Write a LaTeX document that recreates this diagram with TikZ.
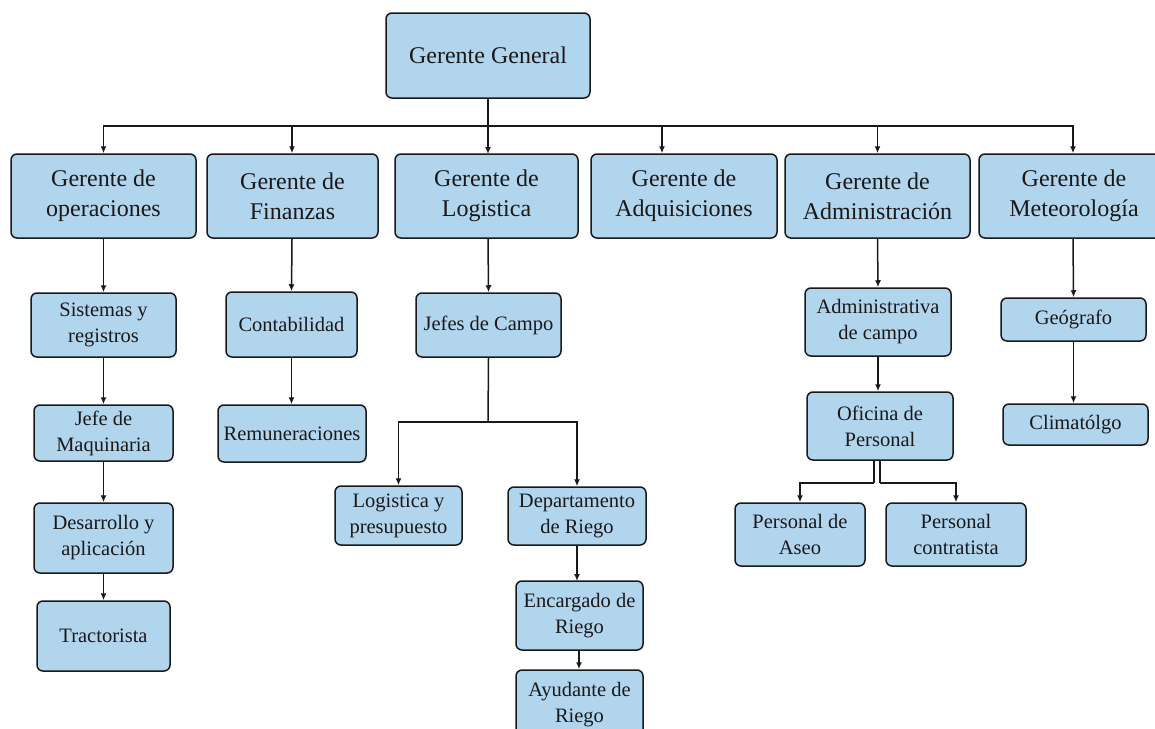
\documentclass[tikz,border=0pt]{standalone}
\usepackage{fontspec}
\setmainfont{Liberation Serif}
\usetikzlibrary{arrows.meta}
\definecolor{boxblue}{RGB}{178,213,238}
\definecolor{ink}{RGB}{25,25,25}
\begin{document}
\begin{tikzpicture}[x=1pt,y=-1pt,
  box/.style={draw=ink, fill=boxblue, rounded corners=6pt, line width=1.5pt, align=center, inner sep=0pt, text=ink},
  big/.style={box, font=\fontsize{24}{30}\selectfont},
  small/.style={box, font=\fontsize{20.5}{26}\selectfont},
  arr/.style={draw=ink, line width=1.5pt, -{Latex[length=7pt,width=6pt]}},
  ln/.style={draw=ink, line width=1.5pt}]
\useasboundingbox (0,0) rectangle (1155,728);
\fill[white] (0,0) rectangle (1155,728);

\node[box, font=\fontsize{24}{30}\selectfont, minimum width=204pt, minimum height=85pt] (gg) at (488,55.5) {Gerente General};

\node[big, minimum width=185pt, minimum height=84pt] (ops) at (103.5,196) {Gerente de\\operaciones};
\node[big, minimum width=171pt, minimum height=84pt] (fin) at (292.5,196) {Gerente de\\Finanzas};
\node[big, minimum width=183pt, minimum height=84pt] (log) at (486.5,196) {Gerente de\\Logistica};
\node[big, minimum width=186pt, minimum height=84pt] (adq) at (684,196) {Gerente de\\Adquisiciones};
\node[big, minimum width=185pt, minimum height=84pt] (adm) at (877.5,196) {Gerente de\\Administración};
\node[big, minimum width=190pt, minimum height=84pt] (met) at (1074,196) {Gerente de\\Meteorología};

\draw[ln] (gg.south) -- (488,126) coordinate (bus);
\draw[ln] (103,126) -- (1073,126);
\draw[arr] (bus) -| (ops.north);
\draw[arr] (bus) -| ([xshift=-0.5pt]fin.north);
\draw[arr] (bus) -- (488,154);
\draw[arr] (bus) -| ([xshift=-22pt]adq.north);
\draw[arr] (bus) -| (adm.north);
\draw[arr] (bus) -| ([xshift=-1pt]met.north);

% operaciones column
\node[small, minimum width=145pt, minimum height=64pt] (sis) at (103.5,325) {Sistemas y\\registros};
\node[small, minimum width=139pt, minimum height=56pt] (maq) at (103.5,433) {Jefe de\\Maquinaria};
\node[small, minimum width=139pt, minimum height=70pt] (des) at (103.5,538) {Desarrollo y\\aplicación};
\node[small, minimum width=133pt, minimum height=70pt] (tra) at (103.5,636) {Tractorista};
\draw[arr] (ops.south) -- (sis.north);
\draw[arr] (sis.south) -- (maq.north);
\draw[arr] (maq.south) -- (des.north);
\draw[arr] (des.south) -- (tra.north);

% finanzas column
\node[small, minimum width=131pt, minimum height=65pt] (con) at (291.5,324.5) {Contabilidad};
\node[small, minimum width=148pt, minimum height=57pt] (rem) at (292,433.5) {Remuneraciones};
\draw[arr] ([xshift=-0.5pt]fin.south) -- (con.north);
\draw[arr] (con.south) -- ([xshift=-0.5pt]rem.north);

% logistica column
\node[small, minimum width=145pt, minimum height=64pt] (jef) at (488.5,325) {Jefes de Campo};
\node[small, minimum width=127pt, minimum height=59pt] (lyp) at (398.5,515.5) {Logistica y\\presupuesto};
\node[small, minimum width=138pt, minimum height=58pt] (dep) at (577,516) {Departamento\\de Riego};
\node[small, minimum width=127pt, minimum height=69pt] (enc) at (579.5,615.5) {Encargado de\\Riego};
\node[small, minimum width=127pt, minimum height=70pt] (ayu) at (579.5,705) {Ayudante de\\Riego};
\draw[arr] ([xshift=1.5pt]log.south) -- (jef.north);
\draw[ln] (jef.south) -- (488,422) coordinate (jb);
\draw[arr] (jb) -| (lyp.north);
\draw[arr] (jb) -| (dep.north);
\draw[arr] (dep.south) -- (577,581);
\draw[arr] ([xshift=-0.5pt]enc.south) -- ([xshift=-0.5pt]ayu.north);

% administracion column
\node[small, minimum width=146pt, minimum height=68pt] (adc) at (878,322) {Administrativa\\de campo};
\node[small, minimum width=146pt, minimum height=68pt] (ofi) at (880,426) {Oficina de\\Personal};
\node[small, minimum width=130pt, minimum height=63pt] (ase) at (800,534.5) {Personal de\\Aseo};
\node[small, minimum width=140pt, minimum height=63pt] (ctr) at (956,534.5) {Personal\\contratista};
\draw[arr] (adm.south) -- (adc.north);
\draw[arr] (adc.south) -- ([xshift=-2pt]ofi.north);
\draw[ln] ([xshift=-6pt]ofi.south) -- ++(0,22) coordinate (ol);
\draw[ln] (ofi.south) -- ++(0,22) coordinate (orr);
\draw[arr] (ol) -| (ase.north);
\draw[arr] (orr) -| (ctr.north);

% meteorologia column
\node[small, minimum width=145pt, minimum height=43pt] (geo) at (1073.5,319.5) {Geógrafo};
\node[small, minimum width=145pt, minimum height=41pt] (cli) at (1075.5,424.5) {Climatólgo};
\draw[arr] ([xshift=-1pt]met.south) -- (geo.north);
\draw[arr] (geo.south) -- ([xshift=-2pt]cli.north);
\end{tikzpicture}
\end{document}
